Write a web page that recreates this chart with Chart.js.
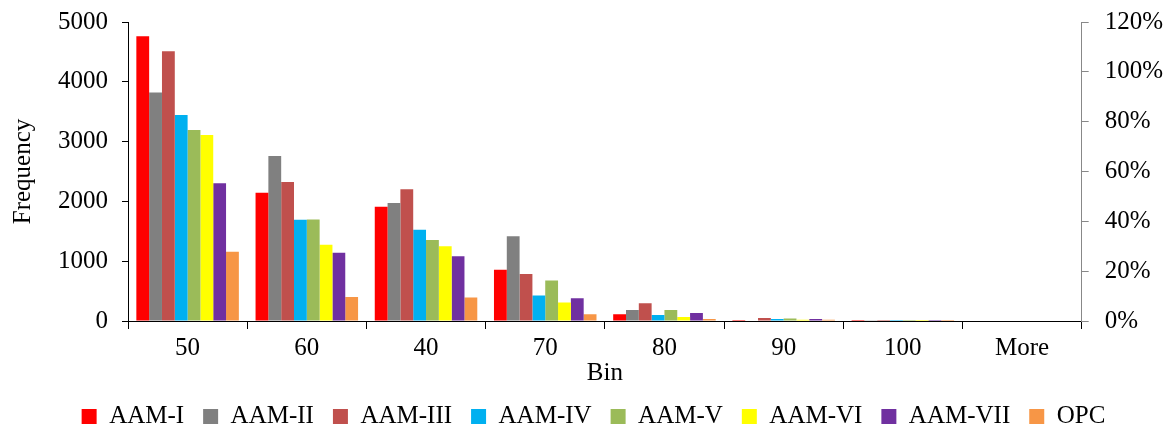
<!DOCTYPE html>
<html>
<head>
<meta charset="utf-8">
<script src="https://cdn.jsdelivr.net/npm/chart.js@4/dist/chart.umd.min.js"></script>
<style>
html,body{margin:0;padding:0;background:#fff;}
#wrap{width:1171px;height:425px;position:relative;}
</style>
</head>
<body>
<div id="wrap"><canvas id="c" width="1171" height="425"></canvas></div>
<script>
const categories = ["50", "60", "40", "70", "80", "90", "100", "More"];
const seriesNames = ["AAM-I", "AAM-II", "AAM-III", "AAM-IV", "AAM-V", "AAM-VI", "AAM-VII", "OPC"];
const aamI   = [4760, 2146, 1910, 857, 113, 17, 17, 0];
const aamII  = [3820, 2761, 1972, 1417, 185, 8, 4, 0];
const aamIII = [4510, 2325, 2202, 785, 297, 50, 17, 0];
const aamIV  = [3445, 1692, 1524, 425, 100, 34, 17, 0];
const aamV   = [3193, 1697, 1356, 678, 185, 42, 2, 0];
const aamVI  = [3109, 1277, 1249, 308, 67, 20, 15, 0];
const aamVII = [2302, 1143, 1081, 381, 134, 34, 15, 0];
const opc    = [1160, 403, 392, 113, 34, 20, 15, 0];
const leftTicks = [0, 1000, 2000, 3000, 4000, 5000];
const rightTicks = [0, 0.2, 0.4, 0.6, 0.8, 1.0, 1.2];

const seriesValues = [aamI, aamII, aamIII, aamIV, aamV, aamVI, aamVII, opc];
const colors = ["#FF0000", "#808080", "#C0504D", "#00B0F0", "#9BBB59", "#FFFF00", "#7030A0", "#F79646"];

const font = { family: "'Liberation Serif', 'Times New Roman', serif", size: 25 };

const legendShrink = {
  id: 'legendShrink',
  beforeInit(chart) {
    const lg = chart.legend;
    if (!lg) return;
    const orig = lg.fit;
    lg.fit = function () { orig.call(this); this.height -= 14; };
  }
};
const trimTop = (s) => { s.paddingTop = 0; };

new Chart(document.getElementById('c'), {
  type: 'bar',
  data: {
    labels: categories,
    datasets: seriesNames.map((n, i) => ({
      label: n,
      data: seriesValues[i],
      backgroundColor: colors[i],
      borderWidth: 0,
      yAxisID: 'y',
      barPercentage: 1.0,
      categoryPercentage: 0.86
    }))
  },
  plugins: [legendShrink],
  options: {
    responsive: false,
    animation: false,
    layout: { padding: { left: 8, right: -8, top: 22, bottom: 0 } },
    plugins: {
      legend: {
        position: 'bottom',
        labels: { font: font, color: '#000', boxWidth: 15, boxHeight: 15, padding: 19 }
      },
      tooltip: { enabled: false }
    },
    scales: {
      x: {
        grid: { display: true, drawOnChartArea: false, drawTicks: true, tickLength: 8, color: '#000', tickColor: '#000', offset: true },
        border: { display: true, color: '#000', width: 1 },
        ticks: { font: font, color: '#000', padding: 4 },
        title: { display: true, text: 'Bin', font: font, color: '#000', padding: { top: -9, bottom: -3 } }
      },
      y: {
        position: 'left',
        min: 0, max: 5000,
        afterBuildTicks: (ax) => { ax.ticks = leftTicks.map(v => ({ value: v })); },
        afterFit: trimTop,
        grid: { display: true, drawOnChartArea: false, drawTicks: true, tickLength: 6, color: '#000', tickColor: '#000' },
        border: { display: true, color: '#000', width: 1 },
        ticks: { font: font, color: '#000', padding: 14, callback: (v) => String(v) },
        title: { display: true, text: 'Frequency', font: font, color: '#000', padding: { top: 0, bottom: 6 } }
      },
      y1: {
        position: 'right',
        min: 0, max: 1.2,
        afterBuildTicks: (ax) => { ax.ticks = rightTicks.map(v => ({ value: v })); },
        afterFit: trimTop,
        grid: { display: true, drawOnChartArea: false, drawTicks: true, tickLength: 7, color: '#888', tickColor: '#888' },
        border: { display: true, color: '#888', width: 1 },
        ticks: { font: font, color: '#000', padding: 16, callback: (v) => Math.round(v * 100) + '%' }
      }
    }
  }
});
</script>
</body>
</html>
